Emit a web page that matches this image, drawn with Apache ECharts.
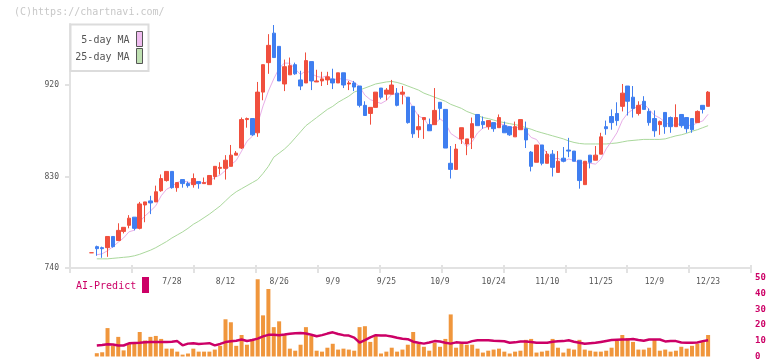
<!DOCTYPE html>
<html><head><meta charset="utf-8">
<script src="https://cdn.jsdelivr.net/npm/echarts@6/dist/echarts.min.js"></script>
<style>html,body{margin:0;padding:0;background:#fff}#c{width:772px;height:361px}</style>
</head><body><div id="c"></div>
<script>
// ---- data ----
const dates = ['7/4','7/7','7/8','7/9','7/10','7/11','7/14','7/15','7/16','7/17','7/18','7/22','7/23','7/24','7/25','7/28','7/29','7/30','7/31','8/1','8/4','8/5','8/6','8/7','8/8','8/12','8/13','8/14','8/15','8/18','8/19','8/20','8/21','8/22','8/25','8/26','8/27','8/28','8/29','9/1','9/2','9/3','9/4','9/5','9/8','9/9','9/10','9/11','9/12','9/16','9/17','9/18','9/19','9/22','9/24','9/25','9/26','9/29','9/30','10/1','10/2','10/3','10/6','10/7','10/8','10/9','10/10','10/14','10/15','10/16','10/17','10/20','10/21','10/22','10/23','10/24','10/27','10/28','10/29','10/30','10/31','11/4','11/5','11/6','11/7','11/10','11/11','11/12','11/13','11/14','11/17','11/18','11/19','11/20','11/21','11/25','11/26','11/27','11/28','12/1','12/2','12/3','12/4','12/5','12/8','12/9','12/10','12/11','12/12','12/15','12/16','12/17','12/18','12/19','12/22','12/23'];
const datesBefore = ['6/30','7/1','7/2','7/3'];
const datesAfter = ['12/24','12/25','12/26','12/29','12/30','1/5','1/6','1/7'];
const labelDates = ['7/28','8/12','8/26','9/9','9/25','10/9','10/24','11/10','11/25','12/9','12/23'];
const priceTicks = [740, 830, 920];
// [open, close, low, high]
const ohlc = [
[755,755,755,755],[761,759,752,762],[760,759,750,761],[760,771,751,771],[771,761,760,771],
[767,777,767,784],[776,780,774,780],[782,789,779,792],[790,779,777,790],[779,803,778,805],
[802,805,785,805],[806,804,793,811],[805,815,805,821],[816,828,815,832],[826,835,825,835],
[835,819,818,835],[819,824,815,824],[827,823,819,827],[823,821,819,825],[822,828,819,833],
[825,823,818,825],[823,824,823,829],[822,831,822,831],[830,840,827,840],[838,839,832,844],
[838,846,827,851],[840,851,840,861],[851,853,851,855],[858,886,857,888],[886,887,878,888],
[887,871,870,887],[873,913,869,923],[913,940,905,940],[942,959,931,970],[971,947,947,979],
[958,924,924,958],[921,938,914,945],[930,939,930,947],[940,931,930,942],[925,919,915,934],
[922,944,922,952],[943,924,915,943],[923,924,923,935],[924,926,919,933],[925,928,920,933],
[926,922,916,936],[922,932,922,932],[932,920,917,932],[921,922,915,924],[922,918,914,924],
[919,900,898,919],[900,890,890,904],[892,898,881,898],[898,913,898,913],[917,908,906,917],
[911,915,905,917],[911,920,911,925],[912,900,899,917],[911,913,901,919],[908,883,882,908],
[899,872,868,899],[876,879,868,891],[886,888,867,888],[881,875,875,887],[881,895,881,917],
[903,897,886,903],[896,858,858,896],[843,837,828,860],[837,857,837,862],[867,878,862,878],
[862,867,851,867],[868,882,857,888],[891,880,880,891],[884,881,877,889],[879,885,876,885],
[883,877,874,883],[878,888,878,891],[880,873,873,884],[879,871,870,879],[869,879,869,884],
[876,886,876,886],[877,866,858,884],[854,840,835,855],[844,861,844,861],[861,843,841,861],
[843,852,843,855],[852,839,830,856],[834,845,834,855],[848,845,844,859],[856,855,849,868],
[855,845,845,855],[846,826,818,846],[822,845,822,845],[851,844,838,851],[846,851,846,860],
[852,869,852,873],[879,877,871,885],[889,883,876,896],[892,885,880,903],[899,912,894,921],
[919,904,890,919],[908,897,888,919],[892,900,890,904],[904,896,896,909],[894,883,880,897],
[887,875,869,895],[881,884,871,885],[893,879,872,893],[888,879,873,889],[879,888,879,901],
[891,880,878,891],[888,877,873,888],[887,876,873,887],[883,894,883,895],[900,896,892,900],
[899,913,899,914]
];
const ma5 = ['-',753,754,757,761,765.4,769.6,775.6,777.2,785.6,791.2,796,801.2,811,817.4,820.2,824.2,825.8,824.4,823,823.8,823.8,825.4,829.2,831.4,836,841.4,845.8,855,864.6,869.6,882,899.4,914,926,936.6,941.6,941.4,935.8,930.2,934.2,931.4,928.4,927.4,929.2,924.8,926.4,925.6,924.8,922.8,918.4,910,905.6,903.8,901.8,904.8,910.8,911.2,911.2,906.2,897.6,889.4,887,879.4,881.8,886.8,882.6,872.4,868.8,865.4,859.4,864.2,872.8,877.6,879,881,882.2,880.8,878.8,877.6,879.4,875,868.4,866.4,859.2,852.4,847,848,844.8,847.2,845.8,843.2,843.2,843,842.2,847,857.2,864.8,873,885.2,892.2,896.2,899.6,901.8,896,890.2,887.6,883.4,880,881,882,880.6,880,883,884.6,891.2];
const ma25 = ['-',749,749,749,749.5,750,750.5,751,752,753.5,755.5,757.5,760,763,766,769.5,772.5,775.5,779,783,786,789.5,793,797,801,806,811,815,818,821,824,827,833,840,849,853,857,862,868,874,880,884,888,892,896,899,903,906,909,913,915,917,919,921,922,923,923.5,922.5,921,919,917,915,912,910,908,906,904,901,899,897,894,892,890,888,887,885.5,884,883,882,881,880,878,876.5,874.5,873,871.5,870,868.5,867,865,863.5,862.5,862,862,862,862,862,862.5,863,864,865,865.5,866,866.5,866.5,866.5,866.5,867,868.5,870,871,872.5,874.5,876,878,880];
const volume = ['-',2.1,2.7,18.1,7.0,12.5,3.9,8.1,8.1,15.6,10.2,12.5,13.1,11.2,5.0,5.0,3.1,1.2,1.9,5.0,3.1,3.1,3.1,4.4,6.8,23.7,21.8,6.8,13.7,7.5,11.2,49.2,26.2,43,18.7,22.4,13.7,5.0,3.7,7.5,18.7,13.1,3.7,3.1,5.6,8.1,4.4,5.0,4.4,3.7,18.7,19.3,9.3,13.7,1.9,3.1,5.6,3.1,4.4,7.5,15.6,8.1,6.2,3.7,8.7,6.2,11.2,26.8,5.6,8.1,7.5,7.5,5.0,2.5,3.7,4.4,5.0,3.1,1.9,3.1,3.7,10.6,11.2,2.5,3.1,3.7,11.2,5.6,2.5,5.0,4.4,10.6,4.4,3.7,3.1,3.1,3.7,5.6,10.0,13.7,11.8,9.3,4.4,4.4,5.6,10.6,3.7,4.4,3.1,3.7,6.2,5.0,6.8,8.1,9.3,13.7];
const aiPredict = ['-',7.0,7.3,7.8,7.6,7.0,7.0,8.4,8.6,8.7,9.0,9.3,9.3,9.3,9.2,9.4,9.8,7.1,8.2,8.4,7.9,8.2,8.5,7.1,8.0,9.2,9.7,10.0,10.8,9.9,10.5,11.4,12.8,13.8,13.8,13.6,14.0,14.5,14.8,14.9,14.6,13.9,12.9,13.6,14.6,15.4,14.3,13.6,13.3,12.0,8.9,10.5,12.2,13.6,13.3,13.3,12.7,11.9,11.3,11.0,9.4,8.7,8.2,8.9,9.8,9.5,8.8,8.2,9.0,8.8,8.7,9.8,10.4,10.4,10.4,10.0,9.9,9.7,8.8,9.0,9.5,9.6,9.3,8.7,8.7,8.7,9.4,9.7,9.8,10.3,9.4,8.8,8.1,8.5,8.7,9.3,9.9,10.5,10.7,10.8,10.9,11.2,10.5,10.0,10.8,10.8,10.8,9.6,9.8,9.8,8.9,8.7,8.7,8.9,9.8,10.4];

// ---- build ----
const UP = '#f04f3e', DOWN = '#3f7ef0';
const FONT = "'DejaVu Sans Mono', monospace";
const AXIS = '#e2e2e2';
const categories = datesBefore.concat(dates, datesAfter);
const wrapWith = (arr, blank) => datesBefore.map(() => blank).concat(arr, datesAfter.map(() => blank));
const wrap = arr => wrapWith(arr, '-');
const candleData = wrapWith(ohlc.map((v, i) => i === 0 ? {value: v, itemStyle: {color: UP, borderColor: UP, color0: UP, borderColor0: UP}} : v), ['-','-','-','-']);

const chart = echarts.init(document.getElementById('c'), null, {renderer: 'canvas'});
chart.setOption({
  animation: false,
  backgroundColor: '#fff',
  grid: [
    {left: 70, right: 21, top: 24, height: 244},
    {left: 70, right: 21, top: 278, height: 80}
  ],
  xAxis: [
    {type: 'category', gridIndex: 0, data: categories, boundaryGap: false,
     axisLine: {show: false}, axisTick: {show: false}, splitLine: {show: false},
     axisLabel: {interval: (idx, val) => labelDates.includes(val), fontSize: 8, color: '#555', margin: 10, fontFamily: FONT}},
    {type: 'value', gridIndex: 0, min: 0, max: 11, interval: 1, position: 'bottom',
     axisLine: {show: true, lineStyle: {color: AXIS, width: 2}},
     axisTick: {show: true, length: 5, lineStyle: {color: AXIS, width: 2}},
     axisLabel: {show: false}, splitLine: {show: false}},
    {type: 'value', gridIndex: 0, min: 0, max: 11, interval: 1, position: 'bottom',
     axisLine: {show: false},
     axisTick: {show: true, inside: true, length: 3, lineStyle: {color: AXIS, width: 2}},
     axisLabel: {show: false}, splitLine: {show: false}},
    {type: 'category', gridIndex: 1, data: categories, boundaryGap: false,
     axisLine: {show: false}, axisTick: {show: false}, axisLabel: {show: false}, splitLine: {show: false}}
  ],
  yAxis: [
    {type: 'value', gridIndex: 0, min: 740, max: 980,
     axisLine: {show: true, lineStyle: {color: AXIS, width: 2}},
     axisTick: {show: true, length: 5, customValues: priceTicks, lineStyle: {color: AXIS, width: 2}},
     axisLabel: {customValues: priceTicks, fontSize: 8, color: '#555', margin: 11, fontFamily: FONT},
     splitLine: {show: false}},
    {type: 'value', gridIndex: 0, min: 740, max: 980,
     axisLine: {show: false},
     axisTick: {show: true, inside: true, length: 3, customValues: priceTicks, lineStyle: {color: AXIS, width: 2}},
     axisLabel: {show: false}, splitLine: {show: false}},
    {type: 'value', gridIndex: 1, position: 'right', min: 0, max: 50, interval: 10,
     axisLine: {show: false}, axisTick: {show: false}, splitLine: {show: false},
     axisLabel: {color: '#cc0066', fontSize: 9, fontWeight: 'bold', margin: 4, fontFamily: FONT}}
  ],
  series: [
    {type: 'line', name: '25-day MA', xAxisIndex: 0, yAxisIndex: 0, data: wrap(ma25), symbol: 'none',
     lineStyle: {color: '#aad89c', width: 1}, z: 2},
    {type: 'line', name: '5-day MA', xAxisIndex: 0, yAxisIndex: 0, data: wrap(ma5), symbol: 'none',
     lineStyle: {color: '#e8aee8', width: 1}, z: 2},
    {type: 'candlestick', xAxisIndex: 0, yAxisIndex: 0, data: candleData, barWidth: 4, z: 3,
     itemStyle: {color: UP, color0: DOWN, borderColor: UP, borderColor0: DOWN, borderWidth: 1}},
    {type: 'bar', name: 'Volume', xAxisIndex: 3, yAxisIndex: 2, data: wrap(volume), barWidth: 4,
     itemStyle: {color: '#f0963c'}, z: 2},
    {type: 'line', name: 'AI-Predict', xAxisIndex: 3, yAxisIndex: 2, data: wrap(aiPredict), symbol: 'none',
     lineStyle: {color: '#cc0066', width: 2.5}, z: 3}
  ],
  graphic: [
    {type: 'text', left: 14, top: 7, z: 10, style: {text: '(C)https://chartnavi.com/', fill: '#c8c8c8', font: '10px ' + FONT}},
    {type: 'rect', z: 10, shape: {x: 70.5, y: 24.5, width: 78, height: 46.5}, style: {fill: '#fff', stroke: '#dcdcdc', lineWidth: 2}},
    {type: 'text', z: 11, x: 129.5, y: 40.5, style: {text: '5-day MA', fill: '#555', font: '10px ' + FONT, align: 'right', verticalAlign: 'middle'}},
    {type: 'rect', z: 11, shape: {x: 136.5, y: 31.5, width: 6, height: 15}, style: {fill: '#efbcef', stroke: '#555', lineWidth: 1}},
    {type: 'text', z: 11, x: 129.5, y: 57.5, style: {text: '25-day MA', fill: '#555', font: '10px ' + FONT, align: 'right', verticalAlign: 'middle'}},
    {type: 'rect', z: 11, shape: {x: 136.5, y: 48.5, width: 6, height: 15}, style: {fill: '#bfe0b2', stroke: '#555', lineWidth: 1}},
    {type: 'text', z: 11, x: 76, y: 286, style: {text: 'AI-Predict', fill: '#cc0066', font: '10px ' + FONT, verticalAlign: 'middle'}},
    {type: 'rect', z: 11, shape: {x: 142, y: 277, width: 7, height: 16}, style: {fill: '#cc0066'}}
  ]
});
</script>
</body></html>
